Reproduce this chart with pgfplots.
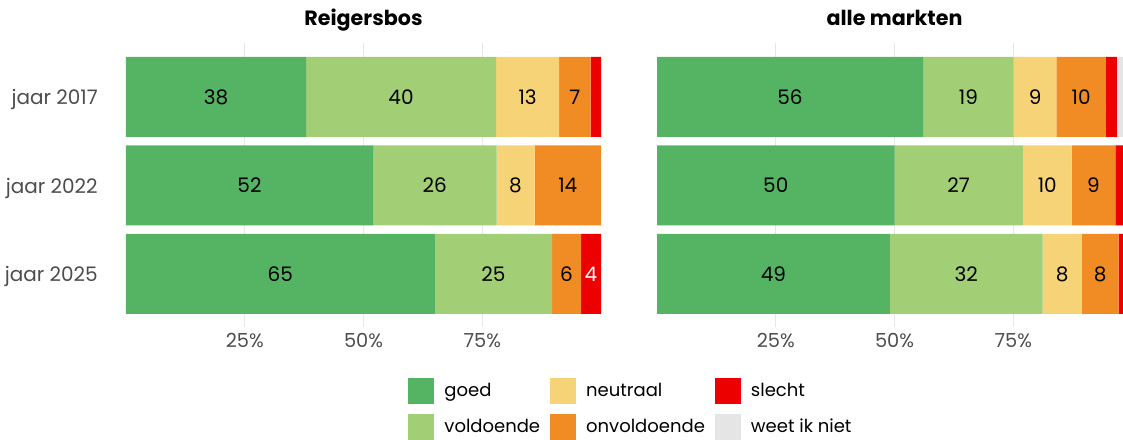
\documentclass[border=0pt]{standalone}
\usepackage{pgfplots}
\usepackage{pgfplotstable}
\pgfplotsset{compat=1.18}
\usepackage{fontspec}
\setmainfont{Poppins}

\definecolor{goed}{HTML}{55B364}
\definecolor{vold}{HTML}{A2CE76}
\definecolor{neut}{HTML}{F7D378}
\definecolor{onv}{HTML}{F18B24}
\definecolor{slecht}{HTML}{EC0000}
\definecolor{weet}{HTML}{E5E5E5}
\definecolor{gridc}{HTML}{E6E6E6}
\definecolor{labc}{HTML}{4D4D4D}

% shares in %, rows: 0 = jaar 2017, 1 = jaar 2022, 2 = jaar 2025
\pgfplotstableread{
y goed vold neut onv slecht weet
0 37.9 40.0 13.3  6.6 2.2 0
1 52.0 26.0  8.0 14.0 0   0
2 65.0 24.7  0    6.1 4.2 0
}\reig
\pgfplotstableread{
y goed vold neut onv slecht weet
0 56.0 19.1  9.0 10.4 2.3 3.2
1 50.0 27.0 10.3  9.2 2.5 1.0
2 49.0 32.2  8.2  7.8 2.0 0.8
}\alle

\pgfplotsset{
  panel/.style={
    scale only axis, width=356.25pt, height=213pt,
    xmin=0, xmax=100, ymin=-0.61, ymax=2.6, y dir=reverse,
    axis line style={draw=none}, major tick length=0pt,
    tick style={draw=none},
    xtick={25,50,75}, xticklabels={25\%,50\%,75\%},
    xmajorgrids, grid style={gridc, line width=1pt},
    ytick={0,1,2},
    xticklabel style={anchor=base, yshift=-15pt, text=labc,
      font=\fontsize{14.5}{17}\selectfont},
    yticklabel style={anchor=base east, inner sep=0pt, xshift=-21pt,
      yshift=-6pt, text=labc, font=\fontsize{15}{18}\selectfont},
    title style={anchor=base, yshift=7.5pt,
      font=\bfseries\fontsize{15.5}{18}\selectfont},
  },
  sq legend/.style={legend image code/.code={
    \fill[##1] (0pt,-9.75pt) rectangle (19.5pt,9.75pt);}},
}

% centred segment labels: table, column, x position, text colour
\newcommand\seglabels[4]{%
  \addplot[draw=none, mark=none, point meta=explicit,
    restrict expr to domain={\thisrow{#2}}{3.5:200},
    nodes near coords={\pgfmathprintnumber[fixed,precision=0,
      assume math mode=true]{\pgfplotspointmeta}},
    every node near coord/.append style={anchor=center, text=#4,
      font=\fontsize{15}{18}\selectfont}]
    table[x expr={#3}, y=y, meta=#2] {#1};
}

\begin{document}
\begin{tikzpicture}
% ---- Reigersbos
\begin{axis}[panel, xbar stacked, bar width=60pt,
  title={Reigersbos},
  yticklabels={jaar 2017, jaar 2022, jaar 2025},
  legend columns=2, transpose legend, legend cell align=left,
  legend style={at={(1.061,-0.17)}, anchor=north, draw=none, fill=none,
    column sep=7.5pt, row sep=7pt,
    nodes={inner sep=0pt}, font=\fontsize{13.5}{16}\selectfont},
]
\addplot[fill=goed, draw=none, sq legend] table[x=goed, y=y] {\reig};
\addplot[fill=vold, draw=none, sq legend] table[x=vold, y=y] {\reig};
\addplot[fill=neut, draw=none, sq legend] table[x=neut, y=y] {\reig};
\addplot[fill=onv, draw=none, sq legend] table[x=onv, y=y] {\reig};
\addplot[fill=slecht, draw=none, sq legend] table[x=slecht, y=y] {\reig};
\addplot[fill=weet, draw=none, sq legend] table[x=weet, y=y] {\reig};
\legend{goed, voldoende, neutraal, onvoldoende, slecht, weet ik niet}
\end{axis}
\begin{axis}[panel, hide axis]
\seglabels{\reig}{goed}{\thisrow{goed}/2}{black}
\seglabels{\reig}{vold}{\thisrow{goed}+\thisrow{vold}/2}{black}
\seglabels{\reig}{neut}{\thisrow{goed}+\thisrow{vold}+\thisrow{neut}/2}{black}
\seglabels{\reig}{onv}{\thisrow{goed}+\thisrow{vold}+\thisrow{neut}+\thisrow{onv}/2}{black}
\seglabels{\reig}{slecht}{\thisrow{goed}+\thisrow{vold}+\thisrow{neut}+\thisrow{onv}+\thisrow{slecht}/2}{white}
\end{axis}

% ---- alle markten
\begin{axis}[panel, xbar stacked, bar width=60pt,
  at={(398.25pt,0pt)}, anchor=south west,
  title={alle markten}, ytick=\empty]
\addplot[fill=goed, draw=none] table[x=goed, y=y] {\alle};
\addplot[fill=vold, draw=none] table[x=vold, y=y] {\alle};
\addplot[fill=neut, draw=none] table[x=neut, y=y] {\alle};
\addplot[fill=onv, draw=none] table[x=onv, y=y] {\alle};
\addplot[fill=slecht, draw=none] table[x=slecht, y=y] {\alle};
\addplot[fill=weet, draw=none] table[x=weet, y=y] {\alle};
\end{axis}
\begin{axis}[panel, hide axis, at={(398.25pt,0pt)}, anchor=south west]
\seglabels{\alle}{goed}{\thisrow{goed}/2}{black}
\seglabels{\alle}{vold}{\thisrow{goed}+\thisrow{vold}/2}{black}
\seglabels{\alle}{neut}{\thisrow{goed}+\thisrow{vold}+\thisrow{neut}/2}{black}
\seglabels{\alle}{onv}{\thisrow{goed}+\thisrow{vold}+\thisrow{neut}+\thisrow{onv}/2}{black}
\end{axis}

\pgfresetboundingbox
\useasboundingbox (-94.5pt,-84pt) rectangle (747.75pt,245.25pt);
\end{tikzpicture}
\end{document}
